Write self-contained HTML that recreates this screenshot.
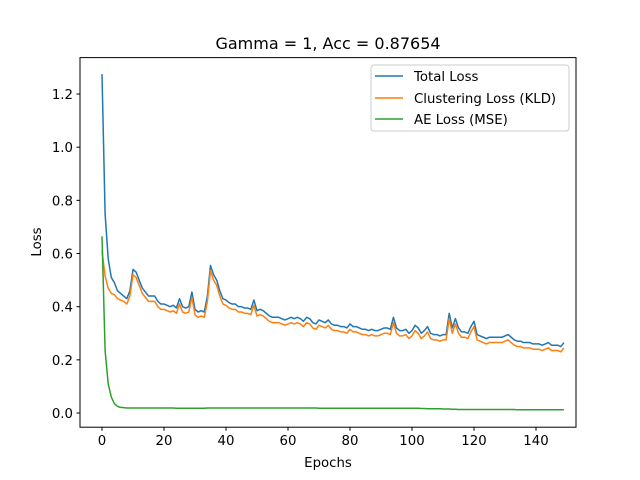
<!DOCTYPE html>
<html><head><meta charset="utf-8"><style>
body{margin:0;background:#fff;}
svg{display:block;font-family:"DejaVu Sans","Liberation Sans",sans-serif;}
</style></head><body>
<svg id="chart" width="640" height="480">
<rect width="640" height="480" fill="#fff"/>
<text x="328" y="49" font-size="16" text-anchor="middle">Gamma = 1, Acc = 0.87654</text>
<g id="ticks"></g>
<g id="series"></g>
<rect x="80" y="57.6" width="496" height="369.6" fill="none" stroke="#000" stroke-width="1"/>
<text x="328" y="467" font-size="13.3" text-anchor="middle">Epochs</text>
<text transform="translate(41,242) rotate(-90)" font-size="13.3" text-anchor="middle">Loss</text>
<g>
<rect x="371" y="65" width="198" height="66" rx="3" fill="#fff" fill-opacity="0.8" stroke="#ccc"/>
<line x1="375" y1="76" x2="403" y2="76" stroke="#1f77b4" stroke-width="1.5"/>
<text x="414" y="81" font-size="13.3">Total Loss</text>
<line x1="375" y1="98" x2="403" y2="98" stroke="#ff7f0e" stroke-width="1.5"/>
<text x="414" y="103" font-size="13.3">Clustering Loss (KLD)</text>
<line x1="375" y1="119" x2="403" y2="119" stroke="#2ca02c" stroke-width="1.5"/>
<text x="414" y="124" font-size="13.3">AE Loss (MSE)</text>
</g>
</svg>
<script>
const totalLoss=[1.275,0.75,0.58,0.51,0.49,0.46,0.45,0.44,0.43,0.46,
0.54,0.53,0.50,0.47,0.455,0.44,0.44,0.44,0.42,0.41,
0.41,0.405,0.40,0.405,0.395,0.43,0.40,0.395,0.40,0.455,
0.39,0.38,0.385,0.38,0.44,0.555,0.52,0.50,0.46,0.43,
0.425,0.415,0.41,0.41,0.40,0.40,0.395,0.395,0.39,0.425,
0.385,0.39,0.385,0.375,0.365,0.36,0.36,0.36,0.355,0.35,
0.355,0.36,0.355,0.36,0.355,0.345,0.36,0.355,0.34,0.335,
0.35,0.345,0.34,0.35,0.335,0.33,0.33,0.325,0.325,0.32,
0.335,0.325,0.325,0.32,0.315,0.315,0.31,0.315,0.31,0.31,
0.315,0.32,0.32,0.315,0.36,0.32,0.31,0.31,0.315,0.30,
0.31,0.33,0.32,0.30,0.31,0.325,0.30,0.295,0.295,0.29,
0.295,0.295,0.375,0.32,0.355,0.32,0.305,0.305,0.30,0.325,
0.345,0.295,0.29,0.285,0.28,0.285,0.285,0.285,0.285,0.285,
0.29,0.295,0.285,0.275,0.27,0.27,0.265,0.265,0.265,0.26,
0.26,0.26,0.255,0.26,0.265,0.255,0.255,0.255,0.25,0.265];
const kldLoss=[0.61,0.515,0.47,0.45,0.445,0.43,0.425,0.42,0.41,0.44,
0.52,0.51,0.48,0.45,0.435,0.42,0.42,0.42,0.40,0.39,
0.39,0.385,0.38,0.385,0.375,0.41,0.38,0.375,0.38,0.435,
0.37,0.36,0.365,0.36,0.42,0.535,0.50,0.48,0.44,0.41,
0.405,0.395,0.39,0.39,0.38,0.38,0.375,0.375,0.37,0.405,
0.365,0.37,0.365,0.355,0.345,0.34,0.34,0.34,0.335,0.33,
0.335,0.34,0.335,0.34,0.335,0.325,0.34,0.335,0.32,0.315,
0.33,0.325,0.32,0.33,0.315,0.31,0.31,0.305,0.305,0.30,
0.315,0.305,0.305,0.30,0.295,0.295,0.29,0.295,0.29,0.29,
0.295,0.30,0.30,0.295,0.34,0.30,0.29,0.29,0.295,0.28,
0.29,0.31,0.30,0.28,0.29,0.305,0.28,0.275,0.275,0.27,
0.275,0.275,0.355,0.30,0.335,0.30,0.285,0.285,0.28,0.305,
0.325,0.275,0.27,0.265,0.26,0.265,0.265,0.265,0.265,0.265,
0.27,0.275,0.265,0.255,0.25,0.25,0.245,0.245,0.245,0.24,
0.24,0.24,0.235,0.24,0.245,0.235,0.235,0.235,0.23,0.245];
const mseLoss=[0.665,0.235,0.11,0.06,0.035,0.025,0.021,0.02,0.019,0.019,
0.019,0.019,0.019,0.019,0.019,0.019,0.019,0.019,0.019,0.019,
0.019,0.019,0.019,0.019,0.018,0.018,0.018,0.018,0.018,0.018,
0.018,0.018,0.018,0.018,0.019,0.019,0.019,0.019,0.019,0.019,
0.019,0.019,0.019,0.019,0.019,0.019,0.019,0.019,0.019,0.019,
0.019,0.019,0.019,0.019,0.019,0.019,0.019,0.019,0.019,0.019,
0.019,0.019,0.019,0.019,0.019,0.019,0.019,0.019,0.019,0.019,
0.018,0.018,0.018,0.018,0.018,0.018,0.018,0.018,0.018,0.018,
0.018,0.018,0.018,0.018,0.018,0.018,0.018,0.018,0.018,0.018,
0.018,0.018,0.018,0.018,0.018,0.018,0.018,0.018,0.018,0.018,
0.018,0.018,0.018,0.017,0.017,0.016,0.016,0.016,0.016,0.016,
0.015,0.015,0.015,0.014,0.014,0.013,0.013,0.013,0.013,0.013,
0.013,0.013,0.013,0.013,0.013,0.013,0.013,0.013,0.013,0.013,
0.013,0.013,0.013,0.013,0.012,0.012,0.012,0.012,0.012,0.012,
0.012,0.012,0.012,0.012,0.012,0.012,0.012,0.012,0.012,0.012];
const xTicks=[0,20,40,60,80,100,120,140];
const yTicks=[0.0,0.2,0.4,0.6,0.8,1.0,1.2];
const yTickLabels=["0.0","0.2","0.4","0.6","0.8","1.0","1.2"];

const NS="http://www.w3.org/2000/svg";
function xMap(e){return 102+e*3.1;}
function yMap(v){return 413-v*265.8;}
const tg=document.getElementById('ticks');
xTicks.forEach(t=>{
  const x=xMap(t);
  const l=document.createElementNS(NS,'line');
  l.setAttribute('x1',x);l.setAttribute('x2',x);l.setAttribute('y1',427.2);l.setAttribute('y2',430.7);
  l.setAttribute('stroke','#000');
  
  
  tg.appendChild(l);
  const tx=document.createElementNS(NS,'text');
  tx.setAttribute('x',x);tx.setAttribute('y',445);tx.setAttribute('font-size','13.3');tx.setAttribute('text-anchor','middle');
  tx.textContent=String(t);
  
  
  tg.appendChild(tx);
});
yTicks.forEach((t,i)=>{
  const y=yMap(t);
  const l=document.createElementNS(NS,'line');
  l.setAttribute('x1',76.5);l.setAttribute('x2',80);l.setAttribute('y1',y);l.setAttribute('y2',y);
  l.setAttribute('stroke','#000');
  
  
  tg.appendChild(l);
  const tx=document.createElementNS(NS,'text');
  tx.setAttribute('x',73);tx.setAttribute('y',y+5);tx.setAttribute('font-size','13.3');tx.setAttribute('text-anchor','end');
  tx.textContent=yTickLabels[i];
  
  
  tg.appendChild(tx);
});
const sg=document.getElementById('series');
function drawLine(arr,color,name){
  const p=document.createElementNS(NS,'polyline');
  p.setAttribute('points',arr.map((v,i)=>xMap(i).toFixed(2)+','+yMap(v).toFixed(2)).join(' '));
  p.setAttribute('fill','none');p.setAttribute('stroke',color);p.setAttribute('stroke-width','1.5');
  p.setAttribute('stroke-linejoin','round');
  
  
  sg.appendChild(p);
}
drawLine(totalLoss,'#1f77b4','total-loss-line');
drawLine(kldLoss,'#ff7f0e','kld-loss-line');
drawLine(mseLoss,'#2ca02c','mse-loss-line');
</script>
</body></html>
